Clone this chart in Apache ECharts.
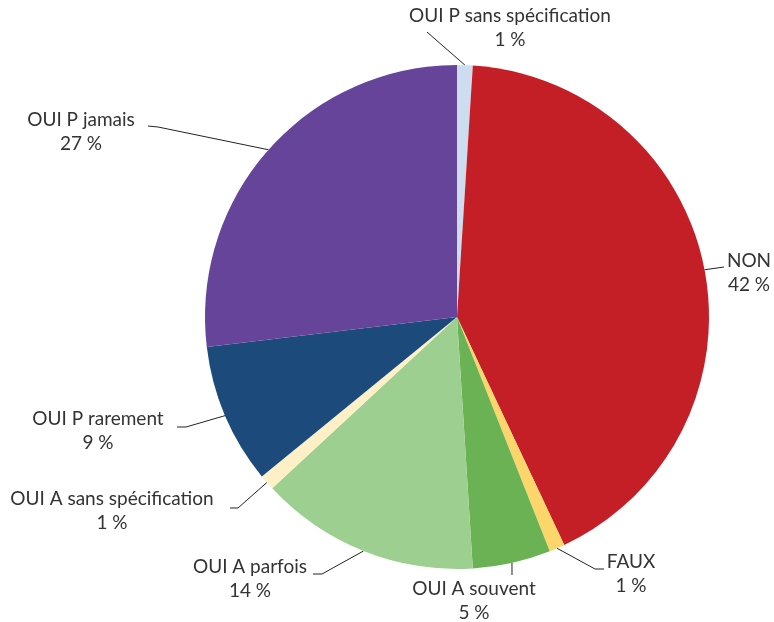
<!DOCTYPE html>
<html>
<head>
<meta charset="utf-8">
<script src="https://cdn.jsdelivr.net/npm/echarts@6/dist/echarts.min.js"></script>
<style>html,body{margin:0;padding:0;background:#fff}#c{width:774px;height:622px}</style>
</head>
<body>
<div id="c"></div>
<script>
const categories = ['OUI P sans spécification','NON','FAUX','OUI A souvent','OUI A parfois','OUI A sans spécification','OUI P rarement','OUI P jamais'];
const values = [1.0, 42.0, 1.0, 5.0, 14.1, 1.0, 9.0, 26.9];
const colors = ['#cddcee','#c41f26','#fcd66b','#6bb254','#9dd090','#fdf0c7','#1b4a7b','#65449a'];

// label placement (centre of text block) and label-line elbow/end points
const labelPos = [
  {x:510, y:28,  pts:[[427,32]]},
  {x:749, y:273, pts:[[724,267]]},
  {x:631, y:574, pts:[[595,569],[604,569]]},
  {x:474, y:601, pts:[[512,575]]},
  {x:250, y:579, pts:[[322,574],[313,574]]},
  {x:112, y:511, pts:[[238,508],[230,508]]},
  {x:98,  y:431, pts:[[186,427],[177,427]]},
  {x:81,  y:132, pts:[[158,127],[148,126]]}
];

const chart = echarts.init(document.getElementById('c'));
chart.setOption({
  animation:false,
  series:[{
    type:'pie',
    center:[457,317],
    radius:[0,252],
    startAngle:90,
    clockwise:true,
    avoidLabelOverlap:false,
    data: categories.map((n,i)=>({name:n,value:values[i],itemStyle:{color:colors[i]}})),
    label:{
      show:true,
      formatter: p => p.name + '\n' + Math.round(p.value) + ' %',
      fontFamily:'Lato',
      fontSize:19,
      lineHeight:24,
      color:'#333',
      align:'center',
      overflow:'none',
      width:260
    },
    labelLine:{show:true,length:10,length2:10,lineStyle:{color:'#222',width:1}},
    labelLayout: function(params){
      const L = labelPos[params.dataIndex];
      const start = params.labelLinePoints ? params.labelLinePoints[0] : null;
      const r = {x:L.x, y:L.y, align:'center', verticalAlign:'middle'};
      if (start) r.labelLinePoints = [start].concat(L.pts);
      return r;
    }
  }]
});
</script>
</body>
</html>
